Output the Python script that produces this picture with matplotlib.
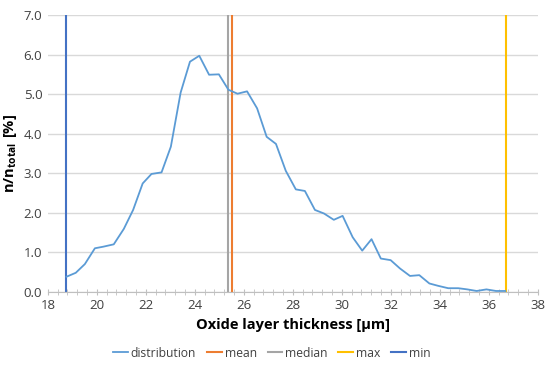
import matplotlib.pyplot as plt
from matplotlib.ticker import MultipleLocator

# distribution of oxide layer thickness
thickness = [18.76, 19.14, 19.51, 19.92, 20.26, 20.69, 21.10, 21.48, 21.87, 22.23,
             22.64, 23.02, 23.42, 23.80, 24.18, 24.58, 24.98, 25.37, 25.74, 26.13,
             26.54, 26.93, 27.31, 27.71, 28.12, 28.49, 28.90, 29.27, 29.67, 30.03,
             30.44, 30.83, 31.21, 31.59, 31.99, 32.37, 32.78, 33.16, 33.57, 33.93,
             34.34, 34.75, 35.12, 35.50, 35.90, 36.29, 36.67]
share = [0.38, 0.48, 0.70, 1.10, 1.14, 1.20, 1.59, 2.07, 2.74, 2.98,
         3.02, 3.67, 5.04, 5.82, 5.97, 5.49, 5.50, 5.11, 5.01, 5.07,
         4.64, 3.92, 3.74, 3.06, 2.59, 2.55, 2.07, 1.98, 1.82, 1.92,
         1.38, 1.04, 1.33, 0.84, 0.80, 0.59, 0.40, 0.42, 0.21, 0.15,
         0.09, 0.09, 0.06, 0.02, 0.06, 0.02, 0.02]

stat_names = ['mean', 'median', 'max', 'min']
stat_values = [25.52, 25.37, 36.70, 18.76]
stat_colors = ['#ED7D31', '#A5A5A5', '#FFC000', '#4472C4']

plt.rcParams['font.family'] = ['Open Sans', 'DejaVu Sans']
plt.rcParams['mathtext.fontset'] = 'custom'
plt.rcParams['mathtext.rm'] = 'Open Sans'
plt.rcParams['mathtext.bf'] = 'Open Sans:bold'

fig = plt.figure(figsize=(5.5, 3.67), dpi=100)
ax = fig.add_axes([0.087, 0.205, 0.891, 0.754])

ax.plot(thickness, share, color='#5B9BD5', lw=1.3, label='distribution', zorder=3)
for name, val, col in zip(stat_names, stat_values, stat_colors):
    ax.axvline(val, color=col, lw=1.5, label=name, zorder=2)

ax.set_xlim(18, 38)
ax.set_ylim(0, 7)
ax.xaxis.set_major_locator(MultipleLocator(2))
ax.xaxis.set_minor_locator(MultipleLocator(0.4))
ax.yaxis.set_major_locator(MultipleLocator(1))
ax.yaxis.set_major_formatter(lambda v, p: f'{v:.1f}')
ax.grid(axis='y', color='#D9D9D9', lw=1)
ax.set_axisbelow(True)

for s in ['top', 'right', 'left']:
    ax.spines[s].set_visible(False)
ax.spines['bottom'].set_color('#BFBFBF')
ax.tick_params(axis='x', which='both', direction='inout', color='#BFBFBF', length=5, labelsize=9.5, labelcolor='#404040', pad=3)
ax.tick_params(axis='x', which='minor', length=4)
ax.tick_params(axis='y', length=0, labelsize=9.5, labelcolor='#404040', pad=4)

ax.set_xlabel('Oxide layer thickness [µm]', fontsize=10.5, fontweight='bold', labelpad=4)
ax.set_ylabel(r'$\mathbf{n/n_{total}\ [\%]}$', fontsize=10.5)
ax.yaxis.set_label_coords(-0.058, 0.5)

ax.legend(loc='center', bbox_to_anchor=(0.457, -0.222), ncol=5, frameon=False,
          fontsize=8.7, handlelength=1.2, handletextpad=0.25, columnspacing=0.9,
          labelcolor='#404040')

fig.savefig('out.png', dpi=100)
